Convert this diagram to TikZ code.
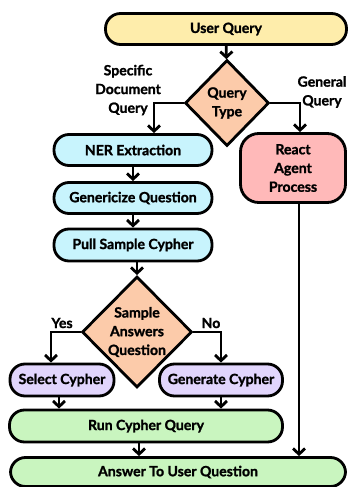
\documentclass[tikz,border=0pt]{standalone}
\usepackage{fontspec}
\setmainfont{Lato}[BoldFeatures={FakeBold=1.4}]
\usepackage{xcolor}
\definecolor{startyellow}{HTML}{FEEDAB}
\definecolor{choicepeach}{HTML}{FCCBAA}
\definecolor{stepblue}{HTML}{C8F4FD}
\definecolor{steppink}{HTML}{FFB9B9}
\definecolor{steppurple}{HTML}{E1D5FC}
\definecolor{stepgreen}{HTML}{C9F5BF}
\usetikzlibrary{positioning,shapes.geometric,arrows.meta}

\begin{document}
\begin{tikzpicture}
                    [
                        x=0.03cm, y=-0.03cm,
                        every node/.style={font=\bfseries\fontsize{12}{16}\selectfont, align=center, inner sep=0pt},
                        every path/.style={line width=2.4pt},
                        box/.style={draw, rounded corners=0.45cm},
                        choice/.style={draw, diamond, inner sep=0pt, fill=choicepeach},
                        flow/.style={-{Straight Barb[length=0.17cm, width=0.36cm, line width=2.4pt]}},
                        startbox/.style={box, fill=startyellow},
                        bluebox/.style={box, fill=stepblue},
                        pinkbox/.style={box, fill=steppink, rounded corners=0.55cm},
                        purplebox/.style={box, fill=steppurple},
                        greenbox/.style={box, fill=stepgreen}
                    ]
                    
                    % Rahmen
                    \useasboundingbox (0,0) rectangle (348,487);
                    
                    \node[startbox, minimum width=7.23cm, minimum height=0.93cm] (uq) at (226,29) {User Query};
                    \node[choice, minimum width=2.52cm, minimum height=2.58cm] (qt) at (227,103) {Query\\Type};
                    \node[bluebox, minimum width=4.74cm, minimum height=0.93cm] (ner) at (133,150) {NER Extraction};
                    \node[pinkbox, minimum width=3.15cm, minimum height=2.07cm] (react) at (293,168) {React\\Agent\\Process};
                    \node[bluebox, minimum width=4.74cm, minimum height=0.93cm] (gen) at (133,198) {Genericize Question};
                    \node[bluebox, minimum width=4.74cm, minimum height=0.96cm] (pull) at (133,245) {Pull Sample Cypher};
                    \node[choice, minimum width=3.3cm, minimum height=3.33cm] (sa) at (137,332) {Sample\\Answers\\Question};
                    \node[purplebox, minimum width=3.12cm, minimum height=0.96cm] (sel) at (62,380) {Select Cypher};
                    \node[purplebox, minimum width=3.69cm, minimum height=0.96cm] (gcy) at (221,380) {Generate Cypher};
                    \node[greenbox, minimum width=8.19cm, minimum height=0.96cm] (run) at (146,426) {Run Cypher Query};
                    \node[greenbox, minimum width=10.05cm, minimum height=0.87cm] (ans) at (178,472) {Answer To User Question};
                    
                    \node (specific) at (128,90) {Specific\\Document\\Query};
                    \node (general) at (322,92) {General\\Query};
                    \node (yes) at (62,323) {Yes};
                    \node (no) at (211,323) {No};
                    
                    \draw[flow] (uq) -- (qt);
                    \draw[flow] (qt.west) -| ([xshift=0.63cm]ner.north);
                    \draw[flow] (qt.east) -| ([xshift=0.21cm]react.north);
                    \draw[flow] (ner) -- (gen);
                    \draw[flow] (gen) -- (pull);
                    \draw[flow] (sa.north |- pull.south) -- (sa.north);
                    \draw[flow] (sa.west) -| ([xshift=-0.33cm]sel.north);
                    \draw[flow] (sa.east) -| (gcy.north);
                    \draw[flow] ([xshift=-0.09cm]sel.south) -- ([xshift=-0.09cm]sel.south |- run.north);
                    \draw[flow] (gcy.south) -- (gcy.south |- run.north);
                    \draw[flow] ([xshift=-0.21cm]run.south) -- ([xshift=-0.21cm]run.south |- ans.north);
                    \draw[flow] ([xshift=0.18cm]react.south) -- ([xshift=0.18cm]react.south |- ans.north);
                \end{tikzpicture}
\end{document}
